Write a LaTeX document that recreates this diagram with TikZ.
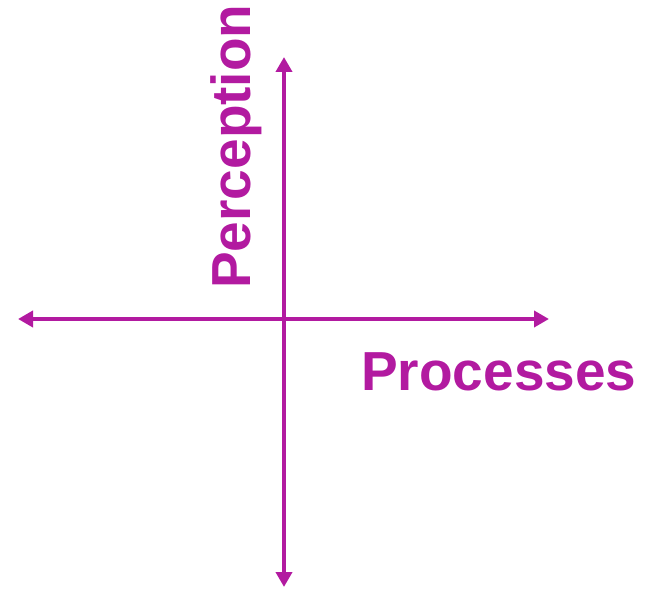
\documentclass[tikz,border=0pt]{standalone}
\usepackage{fontspec}
\setmainfont{Liberation Sans}
\usetikzlibrary{arrows.meta}
\definecolor{axiscol}{RGB}{178,26,160}
\begin{document}
\begin{tikzpicture}[x=1pt,y=1pt,
  axis/.style={draw=axiscol,line width=4pt,{Triangle[length=15pt,width=16pt]}-{Triangle[length=15pt,width=16pt]}},
  lbl/.style={text=axiscol,font=\fontsize{55}{60}\selectfont\bfseries,inner sep=0pt}]
\useasboundingbox (0,0) rectangle (646,590);
\coordinate (L) at (18,271);
\coordinate (R) at (549,271);
\coordinate (T) at (284,533);
\coordinate (B) at (284,3);
\draw[axis] (L) -- (R);
\draw[axis] (B) -- (T);
\node[lbl,anchor=base west] (proc) at (361,199) {Processes};
\node[lbl,anchor=base west,rotate=90] (perc) at (250,301) {Perception};
\end{tikzpicture}
\end{document}
